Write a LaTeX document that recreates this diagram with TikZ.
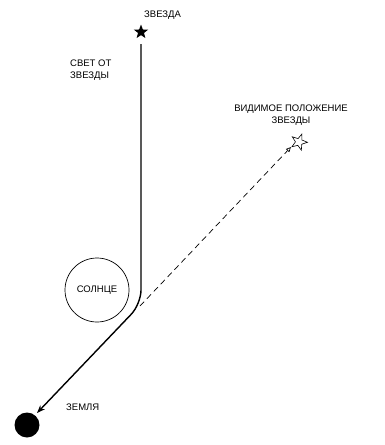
\documentclass[tikz,border=0pt]{standalone}
\usepackage{fontspec}
\setmainfont{Liberation Sans}
\usetikzlibrary{shapes.geometric,arrows.meta}
\begin{document}
\begin{tikzpicture}[x=1pt,y=-1pt,
  lbl/.style={font=\fontsize{9.5}{12}\selectfont, inner sep=0pt, align=center},
  starshape/.style={star, star points=5, star point ratio=2.4, minimum size=#1, inner sep=0pt},
  ray/.style={line width=1.4pt},
]
\useasboundingbox (0,0) rectangle (384,445);
% stars
\node[starshape=15pt, fill=black] (star) at (141,32) {};
\node[starshape=17pt, draw, line width=0.6pt, rotate=-20] (vstar) at (299,142) {};
% sun and earth
\node[circle, draw, line width=0.7pt, minimum size=64pt, inner sep=0pt] (sun) at (97,290) {};
\node[lbl] at (sun.center) {СОЛНЦЕ};
\node[circle, fill=black, minimum size=25pt, inner sep=0pt] (earth) at (27,425) {};
% labels
\node[lbl, anchor=south west] (lstar) at (144,20) {ЗВЕЗДА};
\node[lbl, align=left, anchor=west] (llight) at (70,70) {СВЕТ ОТ\\ЗВЕЗДЫ};
\node[lbl] (lapp) at (291,115) {ВИДИМОЕ ПОЛОЖЕНИЕ\\ЗВЕЗДЫ};
\node[lbl, anchor=west] (learth) at (66,407) {ЗЕМЛЯ};
% coordinates
\coordinate (top) at (141,44);
\coordinate (bend) at (141,304);
\coordinate (tip) at (37,413);
\coordinate (dstart) at (140,306);
\coordinate (dend) at (291,147);
% light ray
\draw[ray, rounded corners=14pt, -{Stealth[length=8pt,width=6pt]}] (top) -- (bend) -- (tip);
% apparent direction
\draw[line width=0.7pt, dash pattern=on 6pt off 4pt, -{Triangle[open,length=5pt,width=4.5pt]}] (dstart) -- (dend);
\end{tikzpicture}
\end{document}
